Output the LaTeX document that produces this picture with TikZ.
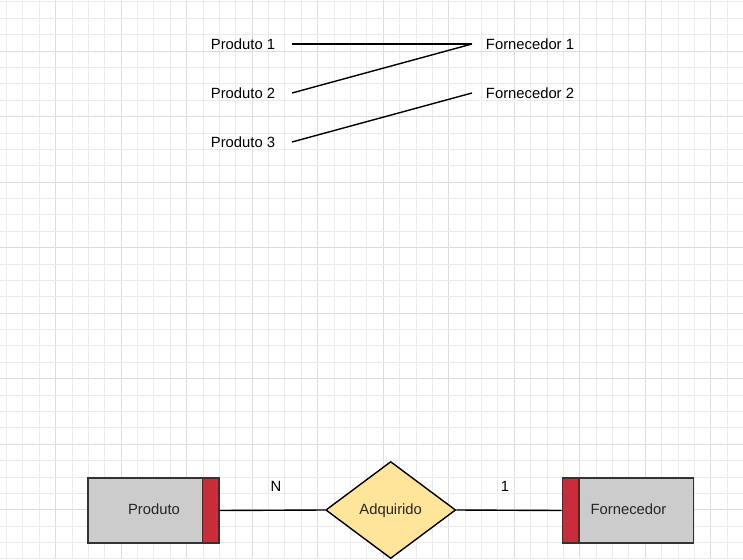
\documentclass[tikz,border=0pt]{standalone}
\usepackage{fontspec}
\setmainfont{Liberation Sans}
\usetikzlibrary{shapes.geometric}
\definecolor{gridminor}{HTML}{EBEBEB}
\definecolor{gridmajor}{HTML}{DCDCDC}
\definecolor{entgrey}{HTML}{CCCCCC}
\definecolor{entred}{HTML}{C92D39}
\definecolor{relyellow}{HTML}{FFE599}
\definecolor{edgedark}{HTML}{333333}
\tikzset{
  lbl/.style={font=\fontsize{14.8}{16}\selectfont, inner sep=0pt, text=black},
  conn/.style={draw=black, line width=1.4pt},
  entbox/.style={draw=edgedark, line width=1.6pt, fill=entgrey, minimum width=131pt, minimum height=65pt, inner sep=0pt},
  enttext/.style={font=\fontsize{14.8}{16}\selectfont, text=black!85, inner sep=0pt},
  redstrip/.style={draw=edgedark, line width=1.6pt, fill=entred, minimum width=16.4pt, minimum height=65pt, inner sep=0pt},
  relbox/.style={diamond, draw=black, line width=1.4pt, fill=relyellow, minimum width=130pt, minimum height=97pt, inner sep=0pt}
}
\begin{document}
\begin{tikzpicture}[x=1pt,y=-1pt]
\useasboundingbox (0,0) rectangle (743,559);
\fill[white] (0,0) rectangle (743,559);
% grid
\foreach \k in {0,...,45}{
  \pgfmathsetmacro{\gx}{6.4+\k*16.38}
  \pgfmathtruncatemacro{\m}{mod(\k,4)}
  \ifnum\m=3
    \draw[gridmajor, line width=0.9pt] (\gx,0) -- (\gx,559);
  \else
    \draw[gridminor, line width=0.8pt] (\gx,0) -- (\gx,559);
  \fi
}
\foreach \k in {0,...,34}{
  \pgfmathsetmacro{\gy}{1.9+\k*16.38}
  \pgfmathtruncatemacro{\m}{mod(\k,4)}
  \ifnum\m=3
    \draw[gridmajor, line width=0.9pt] (0,\gy) -- (743,\gy);
  \else
    \draw[gridminor, line width=0.8pt] (0,\gy) -- (743,\gy);
  \fi
}
% top mapping
\node[lbl] (p1) at (243,44) {Produto 1};
\node[lbl] (p2) at (243,93) {Produto 2};
\node[lbl] (p3) at (243,142) {Produto 3};
\node[lbl] (f1) at (530,44) {Fornecedor 1};
\node[lbl] (f2) at (530,93) {Fornecedor 2};
\coordinate (a1) at (292,44);
\coordinate (a2) at (292,93);
\coordinate (a3) at (292,142);
\coordinate (b1) at (472,44);
\coordinate (b2) at (472,93);
\draw[conn] (a1) -- (b1);
\draw[conn] (a2) -- (b1);
\draw[conn] (a3) -- (b2);
% ER part
\node[relbox] (rel) at (390.7,510) {};
\node[enttext] (relt) at (390.7,510.5) {Adquirido};
\node[entbox] (prod) at (153.2,510.5) {};
\node[redstrip] (prodr) at (210.5,510.5) {};
\node[enttext] (prodt) at (154,509) {Produto};
\node[entbox] (forn) at (627.8,510.5) {};
\node[redstrip] (fornr) at (570.5,510.5) {};
\node[enttext] (fornt) at (628.5,509) {Fornecedor};
\draw[conn] (prodr.east) -- (rel.west);
\draw[conn] (rel.east) -- (fornr.west);
\node[lbl] (n) at (276,486) {N};
\node[lbl] (one) at (505,486) {1};
\end{tikzpicture}
\end{document}
